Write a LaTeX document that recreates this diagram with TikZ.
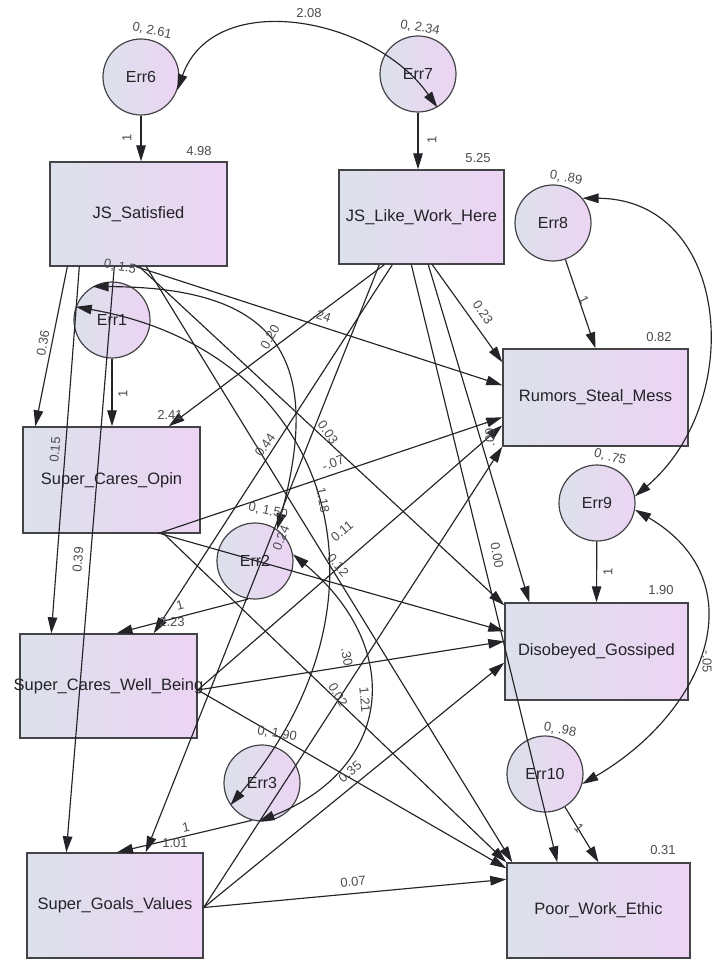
\documentclass[tikz,border=0pt]{standalone}
\usepackage{fontspec}
\setmainfont{Liberation Sans}
\usetikzlibrary{arrows.meta}
\definecolor{fillL}{RGB}{220,225,235}
\definecolor{fillR}{RGB}{236,212,243}
\definecolor{ink}{RGB}{35,35,40}
\definecolor{numgray}{RGB}{75,75,80}
\begin{document}
\begin{tikzpicture}[x=1pt,y=-1pt,
  obs/.style={rectangle,draw=ink!85,line width=1.4pt,left color=fillL,right color=fillR,
    font=\fontsize{16.5}{18}\selectfont,text=ink,inner sep=0pt},
  err/.style={circle,draw=ink!85,line width=1.2pt,left color=fillL,right color=fillR,
    minimum size=76pt,inner sep=0pt,font=\fontsize{16}{18}\selectfont,text=ink},
  reg/.style={line width=1.15pt,draw=ink,-{Triangle[length=16pt,width=9.5pt]}},
  cov/.style={reg,{Triangle[length=16pt,width=9.5pt]}-{Triangle[length=16pt,width=9.5pt]}},
  lab/.style={font=\fontsize{13}{14}\selectfont,text=numgray,inner sep=0pt}]
\useasboundingbox (0,0) rectangle (712,960);
\clip (0,0) rectangle (712,960);

\node[obs,minimum width=177pt,minimum height=104pt] (JSS) at (138.5,214) {JS\_Satisfied};
\node[obs,minimum width=165pt,minimum height=94pt] (JSL) at (421.5,217) {JS\_Like\_Work\_Here};
\node[obs,minimum width=177pt,minimum height=106pt] (SCO) at (111.5,480) {Super\_Cares\_Opin};
\node[obs,minimum width=177pt,minimum height=104pt] (SCW) at (108.5,686) {\makebox[0pt]{Super\_Cares\_Well\_Being}};
\node[obs,minimum width=176pt,minimum height=105pt] (SGV) at (115,905.5) {Super\_Goals\_Values};
\node[obs,minimum width=185pt,minimum height=97pt] (RSM) at (595.5,397.5) {Rumors\_Steal\_Mess};
\node[obs,minimum width=183pt,minimum height=97pt] (DG) at (596.5,651.5) {Disobeyed\_Gossiped};
\node[obs,minimum width=183pt,minimum height=95pt] (PWE) at (598.5,910.5) {Poor\_Work\_Ethic};

\node[err] (Err6) at (141,77) {Err6};
\node[err] (Err7) at (418,74) {Err7};
\node[err] (Err8) at (553,223) {Err8};
\node[err] (Err1) at (112,320) {Err1};
\node[err] (Err2) at (255,561) {Err2};
\node[err] (Err9) at (597,503) {Err9};
\node[err] (Err3) at (262,783) {Err3};
\node[err] (Err10) at (545,774) {Err10};

\draw[reg] (Err6) -- (Err6 |- JSS.north);
\draw[reg] (Err7) -- (Err7 |- JSL.north);
\draw[reg] (Err1) -- (Err1 |- SCO.north);
\draw[reg] (Err8) -- (RSM.north);
\draw[reg] (Err9) -- (DG.north);
\draw[reg] (Err10) -- (PWE.north);
\draw[reg] (Err2.-100) -- ([xshift=8pt]SCW.north);
\draw[reg] (Err3.-105) -- ([xshift=2pt]SGV.north);

\draw[reg] ([xshift=18pt]JSS.south west) -- ([xshift=13pt]SCO.north west);
\draw[reg] ([xshift=30pt]JSS.south west) -- ([xshift=32pt]SCW.north west);
\draw[reg] ([xshift=65pt]JSS.south west) -- ([xshift=40pt]SGV.north west);
\draw[reg] ([xshift=87pt]JSS.south west) -- ([yshift=-37pt]RSM.north west);
\draw[reg] ([xshift=90pt]JSS.south west) -- ([yshift=-3pt]DG.north west);
\draw[reg] ([xshift=97pt]JSS.south west) -- ([xshift=6pt]PWE.north west);

\draw[reg] ([xshift=46pt]JSL.south west) -- ([xshift=-32pt]SCO.north east);
\draw[reg] ([xshift=54pt]JSL.south west) -- ([xshift=-44pt]SCW.north east);
\draw[reg] ([xshift=41pt]JSL.south west) -- ([xshift=-58pt]SGV.north east);
\draw[reg] ([xshift=94pt]JSL.south west) -- ([yshift=-14pt]RSM.north west);
\draw[reg] ([xshift=90pt]JSL.south west) -- ([xshift=25pt]DG.north west);
\draw[reg] ([xshift=73pt]JSL.south west) -- ([xshift=51pt]PWE.north west);

\draw[reg] ([xshift=-43pt]SCO.south east) -- ([yshift=-69pt]RSM.north west);
\draw[reg] ([xshift=-40pt]SCO.south east) -- ([yshift=-29pt]DG.north west);
\draw[reg] ([xshift=-37pt]SCO.south east) -- (PWE.north west);

\draw[reg] ([yshift=-4pt]SCW.east) -- ([yshift=-77pt]RSM.north west);
\draw[reg] ([yshift=-4pt]SCW.east) -- ([yshift=-39pt]DG.north west);
\draw[reg] ([yshift=-4pt]SCW.east) -- ([yshift=-6pt]PWE.north west);

\draw[reg] ([yshift=-2pt]SGV.east) -- (RSM.south west);
\draw[reg] ([yshift=-2pt]SGV.east) -- ([yshift=38pt]DG.south west);
\draw[reg] ([yshift=-2pt]SGV.east) -- ([yshift=-17pt]PWE.north west);

\draw[cov] (Err6.-20) .. controls (214,-13) and (374,17) .. (Err7.-60);
\draw[cov] (Err8.40) .. controls (730,199) and (747,401) .. (Err9.10);
\draw[cov] (Err9.-10) .. controls (758,582) and (706,712) .. (Err10.-15);
\draw[cov] (Err1.120) .. controls (270,287) and (326,350) .. (Err2.55);
\draw[cov] (Err1.160) .. controls (333,352) and (406,598) .. (Err3.215);
\draw[cov] (Err2.10) .. controls (405,648) and (393,768) .. (Err3.-95);

\node[lab,rotate=-12] (lE6) at (152,31) {0, 2.61};
\node[lab] (lC67) at (309,13) {2.08};
\node[lab,rotate=-10] (lE7) at (420,28) {0, 2.34};
\node[lab] (lJSS) at (199,151) {4.98};
\node[lab] (lJSL) at (478,158) {5.25};
\node[lab,rotate=90] (lw6) at (127,138) {1};
\node[lab,rotate=90] (lw7) at (432,140) {1};
\node[lab,rotate=-10] (lE8) at (566,178) {0, .89};
\node[lab,rotate=-65] (lw8) at (584,300) {1};
\node[lab] (lRSM) at (659,337) {0.82};
\node[lab,rotate=-15] (lE9) at (610,457) {0, .75};
\node[lab,rotate=90] (lw9) at (608,572) {1};
\node[lab] (lDG) at (661,590) {1.90};
\node[lab,rotate=-10] (lE10) at (560,730) {0, .98};
\node[lab,rotate=-47] (lw10) at (579,828) {1};
\node[lab] (lPWE) at (663,850) {0.31};
\node[lab,rotate=-10] (lE1) at (120,267) {0, 1.5};
\node[lab,rotate=90] (lw1) at (123,394) {1};
\node[lab] (lSCO) at (170,415) {2.41};
\node[lab,rotate=-12] (lE2) at (268,511) {0, 1.50};
\node[lab,rotate=15] (lw2) at (180,605) {1};
\node[lab] (lSCW) at (172,622) {2.23};
\node[lab,rotate=-10] (lE3) at (277,734) {0, 1.90};
\node[lab,rotate=12] (lw3) at (186,827) {1};
\node[lab] (lSGV) at (175,843) {1.01};

\node[lab,rotate=80] (lSSO) at (43,343) {0.36};
\node[lab,rotate=85] (lSSW) at (55,450) {0.15};
\node[lab,rotate=85] (lSSG) at (78,560) {0.39};
\node[lab,rotate=-18] (lSRM) at (322,316) {.24};
\node[lab,rotate=-55] (lSDG) at (328,432) {0.03};
\node[lab,rotate=-55] (lLRM) at (483,312) {0.23};
\node[lab,rotate=55] (lLSW) at (265,445) {0.44};
\node[lab,rotate=68] (lLSG) at (281,538) {0.24};
\node[lab,rotate=-80] (lLDG) at (497,555) {0.00};
\node[lab,rotate=20] (lORM) at (333,463) {-.07};
\node[lab,rotate=40] (lWRM) at (342,531) {0.11};
\node[lab,rotate=-50] (lODG) at (338,565) {0.12};
\node[lab,rotate=90] (lGRM) at (490,437) {.09};
\node[lab,rotate=-80] (lWDG) at (347,657) {.30};
\node[lab,rotate=-60] (lOPW) at (338,695) {0.02};
\node[lab,rotate=40] (lWPW) at (350,772) {0.35};
\node[lab,rotate=5] (lGPW) at (353,882) {0.07};

\node[lab,rotate=60] (lC12) at (270,337) {0.20};
\node[lab,rotate=-80] (lC13) at (323,500) {1.18};
\node[lab,rotate=-85] (lC23) at (365,700) {1.21};
\node[lab,rotate=-90] (lC910) at (707,662) {-.05};
\end{tikzpicture}
\end{document}
